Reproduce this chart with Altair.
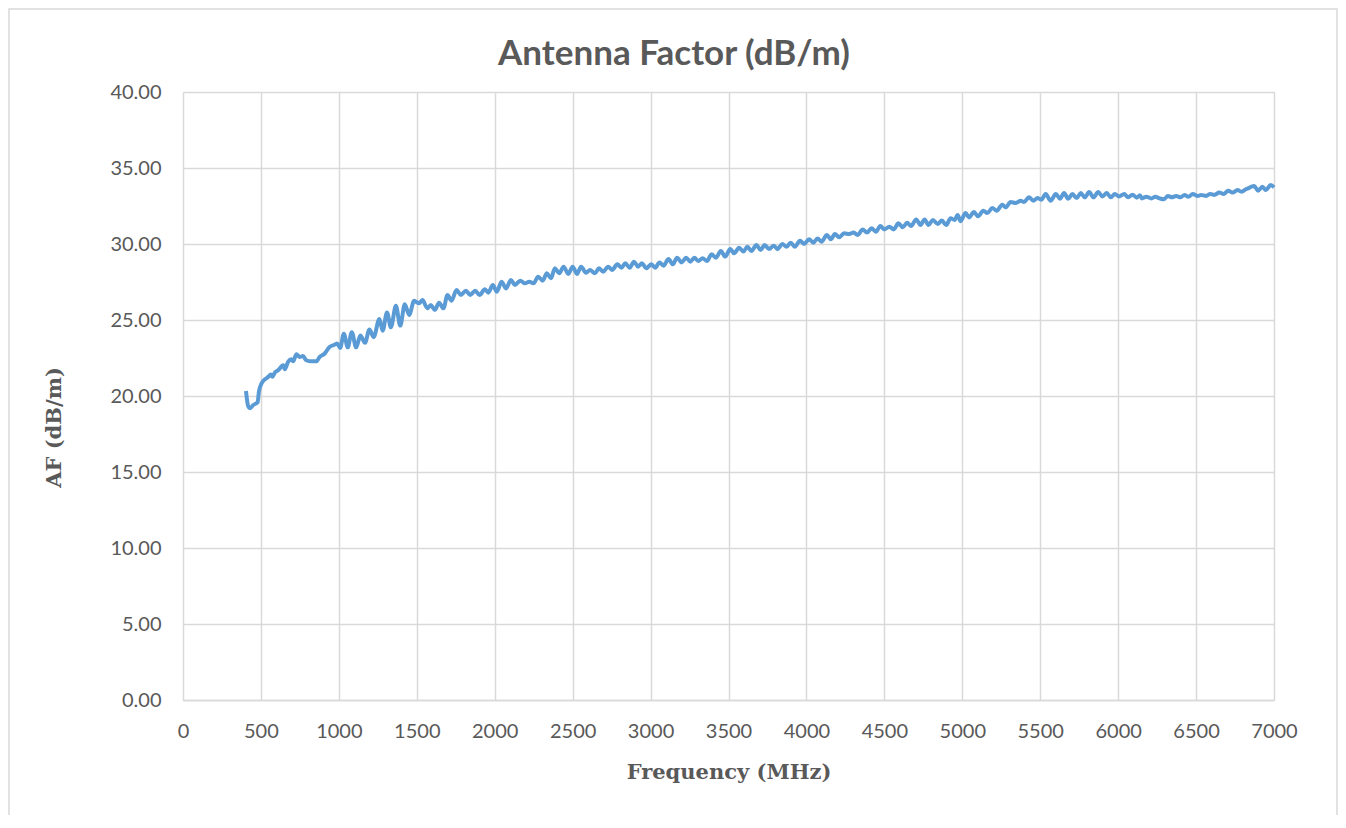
import altair as alt
import pandas as pd

freq_mhz = [
    404, 419, 430, 451, 479, 487, 504, 526, 547, 564, 574, 589, 611, 643, 653, 674, 696, 706, 728, 749,
    770, 791, 823, 855, 877, 908, 940, 972, 990, 1008, 1032, 1057, 1083, 1111, 1138, 1168, 1196, 1223,
    1260, 1281, 1309, 1334, 1366, 1394, 1423, 1451, 1483, 1515, 1536, 1568, 1590, 1616, 1643, 1671,
    1697, 1723, 1755, 1783, 1815, 1843, 1875, 1903, 1937, 1959, 1988, 2014, 2044, 2072, 2104, 2130,
    2164, 2194, 2222, 2249, 2279, 2307, 2335, 2361, 2386, 2414, 2442, 2472, 2500, 2528, 2554, 2586,
    2611, 2643, 2668, 2696, 2728, 2753, 2787, 2813, 2838, 2866, 2894, 2919, 2945, 2972, 3004, 3030,
    3057, 3083, 3115, 3143, 3170, 3200, 3228, 3255, 3281, 3306, 3334, 3362, 3391, 3419, 3451, 3479,
    3511, 3536, 3568, 3596, 3621, 3647, 3679, 3706, 3732, 3760, 3791, 3815, 3845, 3873, 3899, 3925,
    3959, 3985, 4017, 4045, 4071, 4097, 4131, 4157, 4182, 4210, 4242, 4275, 4303, 4328, 4361, 4388,
    4418, 4446, 4474, 4500, 4532, 4560, 4590, 4618, 4646, 4672, 4704, 4732, 4758, 4783, 4811, 4843,
    4869, 4897, 4925, 4951, 4970, 4989, 5021, 5043, 5075, 5101, 5135, 5161, 5193, 5221, 5257, 5278,
    5310, 5343, 5375, 5396, 5428, 5456, 5482, 5507, 5535, 5567, 5600, 5627, 5653, 5679, 5707, 5734,
    5760, 5786, 5814, 5842, 5872, 5899, 5927, 5953, 5979, 6006, 6039, 6064, 6092, 6120, 6140, 6153,
    6181, 6213, 6238, 6266, 6294, 6319, 6345, 6372, 6400, 6426, 6451, 6479, 6511, 6532, 6564, 6591,
    6617, 6649, 6677, 6706, 6734, 6766, 6791, 6819, 6847, 6872, 6898, 6926, 6947, 6979, 7000,
]

af_dbm = [
    20.33, 19.30, 19.20, 19.41, 19.59, 20.28, 20.83, 21.10, 21.26, 21.41, 21.26, 21.54, 21.70, 22.02, 21.76, 22.24, 22.41, 22.28, 22.74, 22.57,
    22.63, 22.35, 22.28, 22.28, 22.57, 22.78, 23.22, 23.37, 23.45, 23.15, 24.09, 23.20, 24.20, 23.20, 23.98, 23.50, 24.37, 23.87,
    25.07, 24.30, 25.50, 24.52, 25.93, 24.63, 26.04, 25.33, 26.26, 26.10, 26.32, 25.77, 25.99, 25.66, 26.14, 25.77,
    26.65, 26.27, 26.97, 26.65, 26.93, 26.65, 26.93, 26.65, 27.02, 26.80, 27.30, 26.86, 27.52, 27.08, 27.63, 27.30,
    27.59, 27.41, 27.52, 27.41, 27.85, 27.59, 28.07, 27.74, 28.40, 28.07, 28.51, 28.03, 28.51, 28.03, 28.51, 28.11,
    28.29, 28.07, 28.40, 28.18, 28.51, 28.29, 28.66, 28.44, 28.73, 28.44, 28.84, 28.51, 28.73, 28.40, 28.66, 28.44,
    28.79, 28.57, 29.01, 28.66, 29.10, 28.79, 29.10, 28.84, 29.10, 28.88, 29.06, 28.88, 29.32, 29.10, 29.54, 29.17,
    29.67, 29.39, 29.76, 29.50, 29.82, 29.54, 29.93, 29.61, 29.93, 29.67, 29.89, 29.66, 30.00, 29.82, 30.09, 29.82,
    30.22, 30.00, 30.31, 30.09, 30.37, 30.15, 30.59, 30.31, 30.66, 30.44, 30.70, 30.66, 30.75, 30.59, 30.96, 30.75,
    31.03, 30.81, 31.18, 30.96, 31.14, 30.96, 31.36, 31.10, 31.40, 31.18, 31.62, 31.25, 31.62, 31.25, 31.58, 31.32,
    31.54, 31.25, 31.69, 31.58, 31.90, 31.50, 32.04, 31.75, 32.10, 31.82, 32.19, 32.04, 32.37, 32.19, 32.59, 32.41,
    32.76, 32.70, 32.85, 32.76, 33.07, 32.85, 33.02, 32.91, 33.29, 32.85, 33.29, 32.98, 33.35, 32.98, 33.29, 33.02,
    33.35, 33.07, 33.42, 33.07, 33.42, 33.13, 33.35, 33.07, 33.29, 33.13, 33.29, 33.07, 33.24, 33.05, 33.20, 33.00,
    33.11, 33.00, 33.11, 33.00, 32.94, 33.16, 33.07, 33.16, 33.07, 33.23, 33.11, 33.29, 33.16, 33.23, 33.16, 33.29,
    33.23, 33.38, 33.29, 33.51, 33.38, 33.55, 33.44, 33.60, 33.73, 33.82, 33.51, 33.77, 33.55, 33.88, 33.73,
]

x_ticks = [0, 500, 1000, 1500, 2000, 2500, 3000, 3500, 4000, 4500, 5000, 5500, 6000, 6500, 7000]
y_ticks = [0, 5, 10, 15, 20, 25, 30, 35, 40]
title_text = ["Antenna Factor (dB/m)"]

df = pd.DataFrame({"Frequency": freq_mhz, "AF": af_dbm})

GRID = "#d9d9d9"
TXT = "#595959"

line = alt.Chart(df).mark_line(
    color="#5b9bd5", strokeWidth=4, interpolate="monotone"
).encode(
    x=alt.X(
        "Frequency:Q",
        scale=alt.Scale(domain=[0, 7000], nice=False),
        axis=alt.Axis(
            values=x_ticks, format="d", title="Frequency (MHz)",
            grid=True, gridColor=GRID, gridWidth=1.5,
            domainColor=GRID, domainWidth=1.5, ticks=False, tickSize=0,
            labelFont="Lato", labelFontSize=20, labelColor=TXT, labelPadding=21,
            labelFlush=False, labelOverlap=False,
            titleFont="DejaVu Serif", titleFontSize=21, titleFontWeight="bold",
            titleColor=TXT, titleY=78, titleBaseline="alphabetic",
        ),
    ),
    y=alt.Y(
        "AF:Q",
        scale=alt.Scale(domain=[0, 40], nice=False),
        axis=alt.Axis(
            values=y_ticks, format=".2f", title="AF (dB/m)",
            grid=True, gridColor=GRID, gridWidth=1.5,
            domain=False, ticks=False, tickSize=0,
            labelFont="Lato", labelFontSize=20, labelColor=TXT, labelPadding=22,
            labelFlush=False,
            titleFont="DejaVu Serif", titleFontSize=21, titleFontWeight="bold",
            titleColor=TXT, titleX=-123, titleY=335, titleAngle=270,
            titleBaseline="alphabetic", titleAlign="center",
        ),
    ),
)

frame = alt.Chart(pd.DataFrame({"a": [0]})).mark_rect(
    fill=None, stroke=GRID, strokeWidth=1.5
).encode(
    x=alt.value(-174), x2=alt.value(1154), y=alt.value(-83), y2=alt.value(780)
)

title = alt.Chart(pd.DataFrame({"t": title_text})).mark_text(
    font="Lato", fontSize=35, fontWeight="bold", color=TXT,
    align="center", baseline="alphabetic",
).encode(text="t:N", x=alt.value(491), y=alt.value(-27))

chart = alt.layer(frame, line, title).properties(
    width=1091,
    height=608,
    autosize=alt.AutoSizeParams(type="none"),
    padding={"left": 175, "top": 84, "right": 64, "bottom": 115},
).configure_view(stroke=None).configure(background="white")

chart.save("out.html", embed_options={"renderer": "svg", "actions": False})
